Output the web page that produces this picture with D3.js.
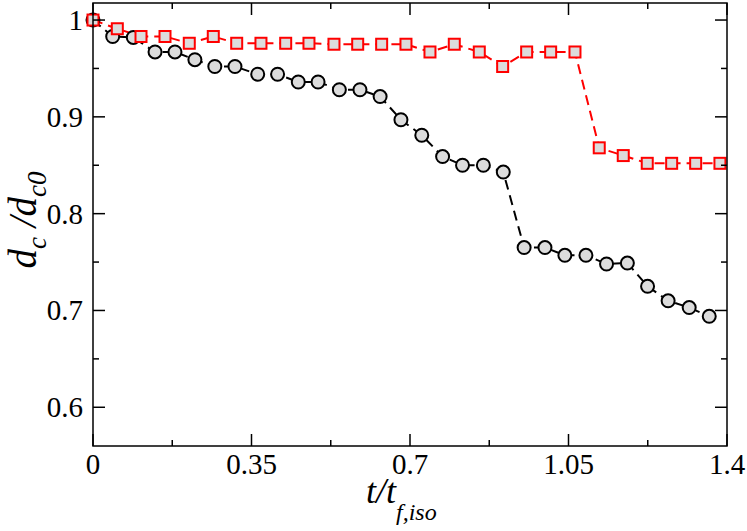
<!DOCTYPE html>
<html>
<head>
<meta charset="utf-8">
<script src="https://cdn.jsdelivr.net/npm/d3@7"></script>
<style>
  html, body { margin: 0; padding: 0; background: #fff; }
  svg { display: block; font-family: "Liberation Serif", "Times New Roman", serif; }
</style>
</head>
<body>
<svg id="chart" width="747" height="531"></svg>
<script>
// ---- data ----
const circleX = [0, 0.0435, 0.089, 0.137, 0.181, 0.225, 0.269, 0.3135, 0.3637, 0.4076, 0.4533, 0.497, 0.544, 0.5895, 0.634, 0.680, 0.726, 0.772, 0.816, 0.862, 0.906, 0.952, 0.998, 1.042, 1.0885, 1.134, 1.180, 1.2246, 1.270, 1.3165, 1.3608];
const circleY = [1.0, 0.983, 0.982, 0.967, 0.967, 0.959, 0.952, 0.952, 0.944, 0.944, 0.936, 0.936, 0.928, 0.928, 0.921, 0.897, 0.881, 0.859, 0.850, 0.850, 0.843, 0.765, 0.765, 0.757, 0.757, 0.748, 0.749, 0.725, 0.710, 0.703, 0.694];
const squareX = [0, 0.0537, 0.106, 0.159, 0.2126, 0.2656, 0.3173, 0.3709, 0.4255, 0.4769, 0.5321, 0.5845, 0.6374, 0.6911, 0.7441, 0.7978, 0.8530, 0.9046, 0.9576, 1.0106, 1.0643, 1.1179, 1.1709, 1.2239, 1.2778, 1.3308, 1.3844];
const squareY = [1.0, 0.991, 0.983, 0.983, 0.976, 0.983, 0.976, 0.976, 0.976, 0.976, 0.975, 0.975, 0.975, 0.975, 0.967, 0.975, 0.967, 0.952, 0.967, 0.967, 0.967, 0.868, 0.860, 0.852, 0.852, 0.852, 0.852];
const xMajorTicks = [0, 0.35, 0.7, 1.05, 1.4];
const xTickLabels = ["0", "0.35", "0.7", "1.05", "1.4"];
const xMinorTicks = [0.175, 0.525, 0.875, 1.225];
const yMajorTicks = [0.6, 0.7, 0.8, 0.9, 1.0];
const yTickLabels = ["0.6", "0.7", "0.8", "0.9", "1"];
const yMinorTicks = [0.65, 0.75, 0.85, 0.95];

// ---- layout ----
const svg = d3.select("#chart");
const pLeft = 93, pRight = 727, pTop = 3, pBottom = 446;
const x = d3.scaleLinear().domain([0, 1.4]).range([pLeft, pRight]);
const y = d3.scaleLinear().domain([0.56, 1.0176]).range([pBottom, pTop]);

const circles = circleX.map((v, i) => ({x: v, y: circleY[i]}));
const squares = squareX.map((v, i) => ({x: v, y: squareY[i]}));

const line = d3.line().x(d => x(d.x)).y(d => y(d.y));

// lines
svg.append("path").datum(circles).attr("d", line)
  .attr("fill", "none").attr("stroke", "#000").attr("stroke-width", 2)
  .attr("stroke-dasharray", "10,6");
svg.append("path").datum(squares).attr("d", line)
  .attr("fill", "none").attr("stroke", "#ff0000").attr("stroke-width", 2)
  .attr("stroke-dasharray", "10,6");

// markers
svg.append("g").selectAll("circle").data(circles).join("circle")
  .attr("cx", d => x(d.x)).attr("cy", d => y(d.y)).attr("r", 6.5)
  .attr("fill", "#dcdcdc").attr("stroke", "#000").attr("stroke-width", 2);
const s = 11;
svg.append("g").selectAll("rect").data(squares).join("rect")
  .attr("x", d => x(d.x) - s / 2).attr("y", d => y(d.y) - s / 2)
  .attr("width", s).attr("height", s)
  .attr("fill", "#dcdcdc").attr("stroke", "#ff0000").attr("stroke-width", 2);

// axes (frame with ticks on all sides)
const axisG = svg.append("g");
const tickStyle = sel => sel.attr("stroke", "#000").attr("stroke-width", 1.5);
function xticks(vals, len) {
  vals.forEach(v => {
    axisG.append("line").attr("x1", x(v)).attr("x2", x(v)).attr("y1", pBottom).attr("y2", pBottom - len).call(tickStyle);
    axisG.append("line").attr("x1", x(v)).attr("x2", x(v)).attr("y1", pTop).attr("y2", pTop + len).call(tickStyle);
  });
}
function yticks(vals, len) {
  vals.forEach(v => {
    axisG.append("line").attr("y1", y(v)).attr("y2", y(v)).attr("x1", pLeft).attr("x2", pLeft + len).call(tickStyle);
    axisG.append("line").attr("y1", y(v)).attr("y2", y(v)).attr("x1", pRight).attr("x2", pRight - len).call(tickStyle);
  });
}
xticks(xMajorTicks, 12); xticks(xMinorTicks, 6);
yticks(yMajorTicks, 12); yticks(yMinorTicks, 6);
axisG.append("rect").attr("x", pLeft).attr("y", pTop).attr("width", pRight - pLeft).attr("height", pBottom - pTop)
  .attr("fill", "none").attr("stroke", "#000").attr("stroke-width", 1.5);

// tick labels
svg.append("g").selectAll("text").data(xMajorTicks).join("text")
  .attr("x", d => x(d)).attr("y", 474).attr("text-anchor", "middle")
  .attr("font-size", 29).text((d, i) => xTickLabels[i]);
svg.append("g").selectAll("text").data(yMajorTicks).join("text")
  .attr("x", 83).attr("y", d => y(d) + 10).attr("text-anchor", "end")
  .attr("font-size", 29).text((d, i) => yTickLabels[i]);

// axis titles
const xt = svg.append("text").attr("x", 366).attr("y", 503).attr("text-anchor", "start")
  .attr("font-style", "italic").attr("font-size", 36);
xt.append("tspan").text("t/t");
xt.append("tspan").attr("font-size", 24).attr("dy", 17).text("f,iso");

const yt = svg.append("text").attr("transform", "translate(36,220) rotate(-90)")
  .attr("text-anchor", "middle").attr("font-style", "italic").attr("font-size", 39);
yt.append("tspan").text("d");
yt.append("tspan").attr("font-size", 27).attr("dy", 10).text("c");
yt.append("tspan").attr("dy", -10).text(" /d");
yt.append("tspan").attr("font-size", 27).attr("dy", 10).text("c0");
</script>
</body>
</html>
